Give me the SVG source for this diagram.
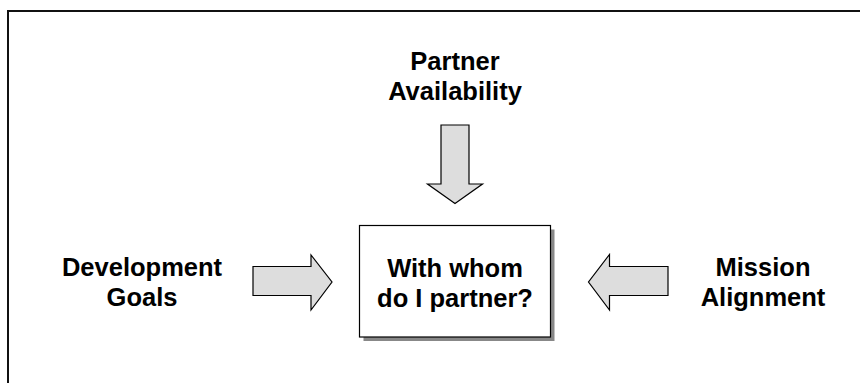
<svg xmlns="http://www.w3.org/2000/svg" width="860" height="383" viewBox="0 0 860 383">
<style>
.lbl{font-family:"Liberation Sans",Arial,sans-serif;font-weight:bold;font-size:25.5px;fill:#000;text-anchor:middle}
.arr{fill:#dddddd;stroke:#000;stroke-width:1.2;stroke-linejoin:miter}
</style>
<rect width="860" height="383" fill="#fff"/>
<path d="M8 383 V11 H860" fill="none" stroke="#111" stroke-width="2"/>
<g id="connectors">
<polygon class="arr" points="441,125 469,125 469,184 482.5,184 455,203.5 427.5,184 441,184"/>
<polygon class="arr" points="253,266.5 311,266.5 311,255 332,282 311,310 311,295.5 253,295.5"/>
<polygon class="arr" points="668,266.5 609.5,266.5 609.5,254.5 588.5,282 609.5,310 609.5,295.5 668,295.5"/>
</g>
<g id="center">
<rect x="363.5" y="229.5" width="191" height="111.5" fill="#888"/>
<rect x="359.5" y="225.5" width="191" height="111.5" fill="#fff" stroke="#000" stroke-width="1.2"/>
<text class="lbl" x="455" y="277">With whom</text>
<text class="lbl" x="455" y="306.5">do I partner?</text>
</g>
<g id="partner">
<text class="lbl" x="455" y="70">Partner</text>
<text class="lbl" x="455" y="100">Availability</text>
</g>
<g id="development">
<text class="lbl" x="142" y="276">Development</text>
<text class="lbl" x="142" y="306">Goals</text>
</g>
<g id="mission">
<text class="lbl" x="763" y="276">Mission</text>
<text class="lbl" x="763" y="306">Alignment</text>
</g>
</svg>
